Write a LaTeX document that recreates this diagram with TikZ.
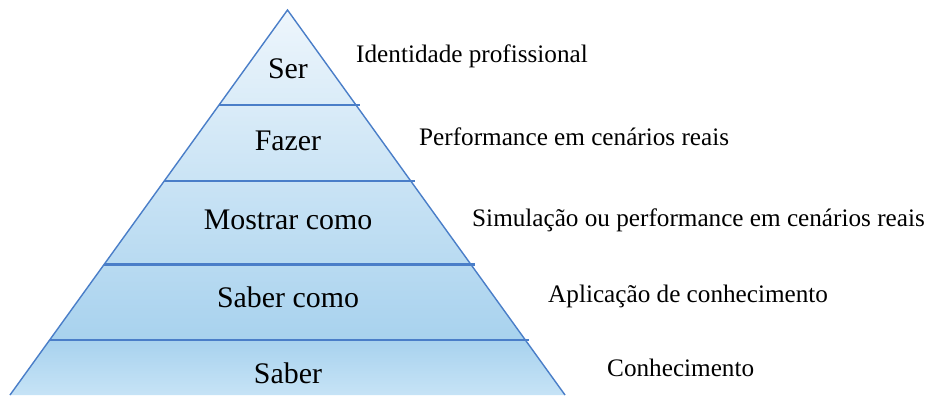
\documentclass[tikz,border=0pt]{standalone}
\usepackage{fontspec}
\setmainfont{Liberation Serif}
\usetikzlibrary{calc}
\definecolor{edgeblue}{HTML}{4A7EC8}
\definecolor{toplight}{HTML}{EEF6FC}
\definecolor{midblue}{HTML}{A8D2EE}
\definecolor{lowlight}{HTML}{C6E3F6}
\tikzset{
  level/.style={anchor=base,font=\fontsize{25.5}{30}\selectfont},
  note/.style={anchor=base west,font=\fontsize{21.5}{26}\selectfont},
  divider/.style={draw=edgeblue,line width=2.4pt}
}

\begin{document}
\begin{tikzpicture}
	 [x=0.03cm,y=-0.03cm,every node/.style={inner sep=0pt}]
	  \useasboundingbox (0,0) rectangle (937,395);

	  \coordinate (apex) at (287.5,10);
	  \coordinate (bl) at (10,395);
	  \coordinate (br) at (565,395);
	  \coordinate (l4) at ($(apex)!0.857!(bl)$);
	  \coordinate (r4) at ($(apex)!0.857!(br)$);

	  \shade[top color=toplight,bottom color=midblue] (apex) -- (l4) -- (r4) -- cycle;
	  \shade[top color=midblue,bottom color=lowlight] (l4) -- (r4) -- (br) -- (bl) -- cycle;

	\foreach \t [count=\i] in {0.247,0.444,0.660,0.857} {
	  \coordinate (l\i) at ($(apex)!\t!(bl)$);
	  \coordinate (r\i) at ($(apex)!\t!(br)$);
	  \draw[divider] (l\i) -- ($(r\i)+(4,0)$);
	}
	  \draw[edgeblue,line width=1.2pt] (bl) -- (apex) -- (br);

	\foreach \name/\txt/\y in {ser/Ser/78,fazer/Fazer/150,mostrar/Mostrar como/229,sabercomo/Saber como/307,saber/Saber/383}
	  \node[level] (\name) at (288,\y) {\txt};

	\foreach \name/\txt/\x/\y in {ident/Identidade profissional/356/63,perf/Performance em cenários reais/419/145,simul/Simulação ou performance em cenários reais/472/226,aplic/Aplicação de conhecimento/548/302,conh/Conhecimento/607/376}
	  \node[note] (\name) at (\x,\y) {\txt};

\end{tikzpicture}
\end{document}
